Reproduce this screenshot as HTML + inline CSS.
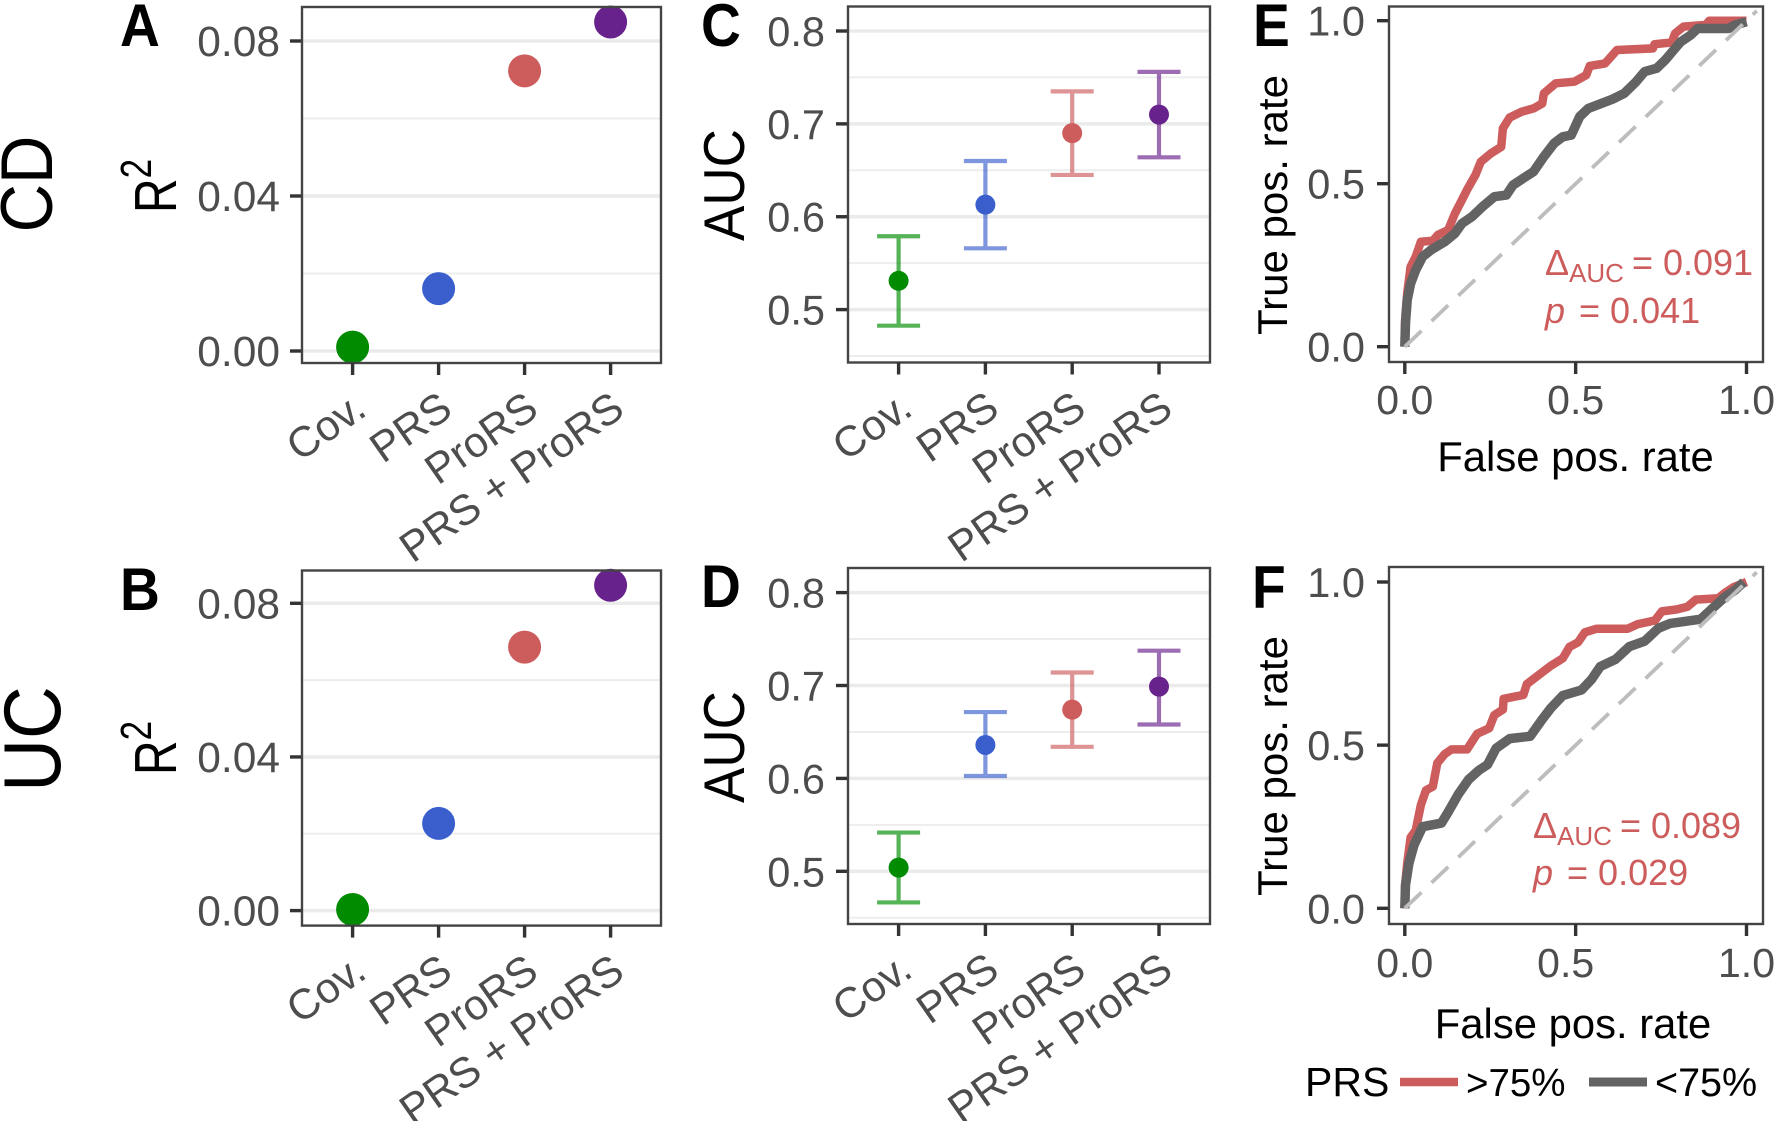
<!DOCTYPE html>
<html lang="en">
<head>
<meta charset="utf-8">
<title>Risk score performance for CD and UC</title>
<style>
html,body{margin:0;padding:0;background:#fff;}
svg{display:block;font-family:"Liberation Sans",Arial,sans-serif;}
</style>
</head>
<body>
<svg id="figure" width="1775" height="1121" viewBox="0 0 1775 1121" xmlns="http://www.w3.org/2000/svg"></svg>
<script>
var categories = ['Cov.', 'PRS', 'ProRS', 'PRS + ProRS'];
var categoryColors = ['#008B00', '#3A5FCD', '#CD5C5C', '#68228B'];

var r2TickLabels = ['0.00', '0.04', '0.08'];
var r2Ticks = [0, 0.04, 0.08];
var r2MinorTicks = [0.02, 0.06];
var aucTickLabels = ['0.5', '0.6', '0.7', '0.8'];
var aucTicks = [0.5, 0.6, 0.7, 0.8];
var aucMinorTicks = [0.45, 0.55, 0.65, 0.75];
var rocTickLabels = ['0.0', '0.5', '1.0'];
var rocTicks = [0, 0.5, 1];

var r2Cd = [0.001, 0.0161, 0.0723, 0.0849];
var r2Uc = [0.0003, 0.0227, 0.0686, 0.0847];

var aucCdMean = [0.531, 0.613, 0.690, 0.710];
var aucCdLower = [0.4827, 0.566, 0.645, 0.664];
var aucCdUpper = [0.579, 0.660, 0.735, 0.756];
var aucUcMean = [0.504, 0.636, 0.674, 0.6988];
var aucUcLower = [0.4665, 0.6026, 0.634, 0.658];
var aucUcUpper = [0.5417, 0.6714, 0.714, 0.7375];

var rocCdHighFpr = [0,.001,.007,.017,.032,.047,.082,.097,.127,.147,.167,.182,.207,.222,.252,.282,.287,.307,.342,.377,.402,.407,.442,.496,.531,.541,.586,.621,.726,.731,.781,.791,.816,.881,.891,1];
var rocCdHighTpr = [0,.082,.164,.245,.276,.322,.325,.343,.358,.409,.45,.481,.527,.567,.593,.613,.67,.703,.721,.731,.746,.777,.808,.813,.833,.861,.869,.91,.915,.928,.933,.961,.982,.987,1,1];
var rocCdLowFpr = [0,.002,.007,.017,.032,.052,.077,.117,.147,.167,.197,.227,.262,.297,.317,.347,.377,.407,.437,.462,.487,.512,.537,.577,.607,.642,.677,.702,.737,.762,.787,.807,.837,.857,.947,.967,1];
var rocCdLowTpr = [0,.072,.143,.194,.235,.276,.297,.322,.348,.378,.399,.429,.46,.465,.496,.517,.537,.583,.624,.644,.649,.706,.731,.747,.759,.777,.813,.844,.854,.879,.91,.935,.956,.976,.976,.987,.997];
var rocUcHighFpr = [0,.001,.007,.017,.032,.047,.062,.082,.095,.117,.137,.182,.212,.247,.262,.287,.289,.347,.357,.392,.427,.462,.482,.507,.527,.562,.652,.682,.732,.752,.797,.827,.852,.917,.937,.962,1];
var rocUcHighTpr = [0,.071,.138,.217,.239,.317,.362,.373,.445,.473,.487,.487,.535,.552,.592,.609,.642,.654,.687,.715,.743,.766,.801,.815,.846,.857,.857,.871,.882,.91,.916,.924,.946,.95,.967,.984,1];
var rocUcLowFpr = [0,.002,.012,.027,.052,.107,.127,.157,.187,.217,.242,.267,.307,.367,.402,.427,.462,.517,.547,.572,.617,.657,.702,.742,.777,.866,.901,.936,.966,.992];
var rocUcLowTpr = [0,.071,.138,.194,.25,.261,.295,.35,.395,.423,.44,.49,.52,.527,.579,.613,.652,.669,.702,.741,.763,.802,.819,.858,.873,.886,.92,.953,.975,1];

var SVG_NS = 'http://www.w3.org/2000/svg';
var root = document.getElementById('figure');

function add(parent, tag, attrs, text) {
  var node = document.createElementNS(SVG_NS, tag);
  for (var key in attrs) { node.setAttribute(key, attrs[key]); }
  if (text !== undefined) { node.textContent = text; }
  parent.appendChild(node);
  return node;
}

function linear(d0, d1, r0, r1) {
  return function (v) { return r0 + (v - d0) / (d1 - d0) * (r1 - r0); };
}

function slug(s) {
  return s.toLowerCase().replace(/[^a-z0-9]+/g, '-').replace(/^-|-$/g, '');
}

function panelBase(id, box, yScale, majors, minors, yLabels, labelRight, labelSize) {
  var g = add(root, 'g', {});
  
  
  minors.forEach(function (v) {
    var el = add(g, 'line', {x1: box.l, x2: box.r, y1: yScale(v), y2: yScale(v), stroke: '#ededed', 'stroke-width': 2});
    
    
  });
  majors.forEach(function (v, i) {
    var y = yScale(v);
    var el;
    if (box.grid !== false) {
      el = add(g, 'line', {x1: box.l, x2: box.r, y1: y, y2: y, stroke: '#ebebeb', 'stroke-width': 3.5});
      
      
    }
    el = add(g, 'line', {x1: box.l - 12, x2: box.l, y1: y, y2: y, stroke: '#333', 'stroke-width': 3.4});
    
    
    el = add(g, 'text', {x: labelRight, y: y + 15, 'text-anchor': 'end', 'font-size': labelSize, fill: '#4d4d4d'}, yLabels[i]);
    
    
  });
  return g;
}

function frame(g, box) {
  var el = add(g, 'rect', {x: box.l, y: box.t, width: box.r - box.l, height: box.b - box.t, fill: 'none', stroke: '#444', 'stroke-width': 2.4});
  
  
}

function categoryAxis(g, box, xPos) {
  categories.forEach(function (c, i) {
    var x = xPos(i);
    var el = add(g, 'line', {x1: x, x2: x, y1: box.b, y2: box.b + 12, stroke: '#333', 'stroke-width': 3.4});
    
    
    var ax = x + 16, ay = box.b + 51;
    el = add(g, 'text', {x: ax, y: ay, 'text-anchor': 'end', 'font-size': 42.5, fill: '#4d4d4d', transform: 'rotate(-35 ' + ax + ' ' + ay + ')'}, c);
    
    
  });
}

function r2Panel(id, box, y0px, y08px, values) {
  var y = linear(0, 0.08, y0px, y08px);
  var g = panelBase(id, box, y, r2Ticks, r2MinorTicks, r2TickLabels, 280, 42.5);
  var xPos = linear(0, 3, 352.6, 610.6);
  values.forEach(function (v, i) {
    var el = add(g, 'circle', {cx: xPos(i), cy: y(v), r: 16.5, fill: categoryColors[i]});
    
    
  });
  frame(g, box);
  categoryAxis(g, box, xPos);
}

function aucPanel(id, box, y5px, y8px, mean, lower, upper) {
  var y = linear(0.5, 0.8, y5px, y8px);
  var g = panelBase(id, box, y, aucTicks, aucMinorTicks, aucTickLabels, 825, 41.5);
  var xPos = linear(0, 3, 898.6, 1159);
  mean.forEach(function (v, i) {
    var x = xPos(i);
    var el = add(g, 'path', {d: 'M' + (x - 21.5) + ' ' + y(upper[i]) + 'H' + (x + 21.5) + 'M' + x + ' ' + y(upper[i]) + 'V' + y(lower[i]) + 'M' + (x - 21.5) + ' ' + y(lower[i]) + 'H' + (x + 21.5), fill: 'none', stroke: categoryColors[i], 'stroke-width': 4.2, 'stroke-opacity': 0.66});
    
    
    el = add(g, 'circle', {cx: x, cy: y(v), r: 10, fill: categoryColors[i]});
    
    
  });
  frame(g, box);
  categoryAxis(g, box, xPos);
}

function rocPath(xs, ys, xScale, yScale) {
  return xs.map(function (v, i) {
    return (i ? 'L' : 'M') + xScale(v).toFixed(1) + ' ' + yScale(ys[i]).toFixed(1);
  }).join('');
}

function rocPanel(id, box, y0px, y1px, highX, highY, lowX, lowY, labelBase, labelShift) {
  var y = linear(0, 1, y0px, y1px);
  var x = linear(0, 1, 1404.8, 1746.5);
  var g = panelBase(id, Object.assign({grid: false}, box), y, rocTicks, [], rocTickLabels, 1365, 41.5);
  var el = add(g, 'path', {d: rocPath(highX, highY, x, y), fill: 'none', stroke: '#CD5C5C', 'stroke-width': 8.5, 'stroke-linejoin': 'round'});
  
  
  el = add(g, 'path', {d: rocPath(lowX, lowY, x, y), fill: 'none', stroke: '#636363', 'stroke-width': 9.5, 'stroke-linejoin': 'round'});
  
  
  el = add(g, 'line', {x1: x(0), y1: y(0), x2: x(1.03), y2: y(1.03), stroke: '#bdbdbd', 'stroke-width': 3.8, 'stroke-dasharray': '23 14'});
  
  
  frame(g, box);
  rocTicks.forEach(function (v, i) {
    var px = x(v);
    var t = add(g, 'line', {x1: px, x2: px, y1: box.b, y2: box.b + 12, stroke: '#333', 'stroke-width': 3.4});
    
    
    t = add(g, 'text', {x: px + labelShift[i], y: labelBase, 'text-anchor': 'middle', 'font-size': 41, fill: '#4d4d4d'}, rocTickLabels[i]);
    
    
  });
}

function plainText(str, attrs) {
  var base = {fill: '#000'};
  for (var k in attrs) { base[k] = attrs[k]; }
  return add(root, 'text', base, str);
}

function annotate(x, y1, y2, delta, pval, id) {
  var t = add(root, 'text', {x: x, y: y1, 'font-size': 36, fill: '#CD5C5C'});
  
  
  add(t, 'tspan', {}, '\u0394');
  add(t, 'tspan', {'font-size': 26, dy: 7}, 'AUC');
  add(t, 'tspan', {dy: -7, dx: 8}, '= ' + delta);
  var p = add(root, 'text', {x: x, y: y2, 'font-size': 36, fill: '#CD5C5C'});
  
  
  add(p, 'tspan', {'font-style': 'italic'}, 'p');
  add(p, 'tspan', {dx: 14}, '= ' + pval);
}

r2Panel('a', {l: 302, r: 661, t: 7, b: 363}, 351, 41, r2Cd);
r2Panel('b', {l: 302, r: 661, t: 570.5, b: 925.6}, 910.6, 603.3, r2Uc);
aucPanel('c', {l: 848, r: 1210, t: 6.5, b: 362.5}, 309.6, 31, aucCdMean, aucCdLower, aucCdUpper);
aucPanel('d', {l: 848, r: 1210, t: 568, b: 924}, 871.3, 592.6, aucUcMean, aucUcLower, aucUcUpper);
rocPanel('e', {l: 1389, r: 1763, t: 6.5, b: 362}, 346.7, 20.7, rocCdHighFpr, rocCdHighTpr, rocCdLowFpr, rocCdLowTpr, 414, [0, 0, 0]);
rocPanel('f', {l: 1389, r: 1763, t: 567, b: 924}, 908.3, 582, rocUcHighFpr, rocUcHighTpr, rocUcLowFpr, rocUcLowTpr, 977, [0, -10, 0]);

annotate(1545, 275, 323, '0.091', '0.041', 'cd');
annotate(1533, 838, 885, '0.089', '0.029', 'uc');

var el;
el = plainText('A', {'font-size': 60, 'font-weight': 'bold', transform: 'translate(120 46) scale(.92 1)'});


el = plainText('B', {'font-size': 60, 'font-weight': 'bold', transform: 'translate(120 610) scale(.92 1)'});


el = plainText('C', {'font-size': 60, 'font-weight': 'bold', transform: 'translate(701 46) scale(.92 1)'});


el = plainText('D', {'font-size': 60, 'font-weight': 'bold', transform: 'translate(701 607) scale(.92 1)'});


el = plainText('E', {'font-size': 60, 'font-weight': 'bold', transform: 'translate(1253 46) scale(.92 1)'});


el = plainText('F', {'font-size': 60, 'font-weight': 'bold', transform: 'translate(1252 608) scale(.92 1)'});



el = plainText('CD', {'font-size': 67, 'text-anchor': 'middle', transform: 'translate(52 184) rotate(-90) scale(1 1.1)'});


el = plainText('UC', {'font-size': 73, 'text-anchor': 'middle', transform: 'translate(60 739) rotate(-90) scale(1 1.1)'});



function r2Title(baseY, id) {
  var t = add(root, 'text', {'font-size': 48, fill: '#000', transform: 'translate(176 ' + baseY + ') rotate(-90) scale(1 1.24)'});
  
  
  add(t, 'tspan', {}, 'R');
  add(t, 'tspan', {'font-size': 35, dy: -20}, '2');
}
r2Title(213, 'cd');
r2Title(775, 'uc');

el = plainText('AUC', {'font-size': 53, 'text-anchor': 'middle', transform: 'translate(744 185) rotate(-90) scale(1 1.08)'});


el = plainText('AUC', {'font-size': 53, 'text-anchor': 'middle', transform: 'translate(744 747) rotate(-90) scale(1 1.08)'});



el = plainText('True pos. rate', {'font-size': 42, 'text-anchor': 'middle', transform: 'translate(1287 205) rotate(-90)'});


el = plainText('True pos. rate', {'font-size': 42, 'text-anchor': 'middle', transform: 'translate(1287 766) rotate(-90)'});


el = plainText('False pos. rate', {'font-size': 41.8, 'text-anchor': 'middle', x: 1575.5, y: 471});


el = plainText('False pos. rate', {'font-size': 41.8, 'text-anchor': 'middle', x: 1573, y: 1038});



el = plainText('PRS', {'font-size': 41, x: 1305, y: 1096});


el = add(root, 'line', {x1: 1400, x2: 1458, y1: 1082, y2: 1082, stroke: '#CD5C5C', 'stroke-width': 8.5});


el = plainText('>75%', {'font-size': 38.5, x: 1466, y: 1096});


el = add(root, 'line', {x1: 1589, x2: 1647, y1: 1082, y2: 1082, stroke: '#636363', 'stroke-width': 9});


el = plainText('<75%', {'font-size': 39.5, x: 1655, y: 1096});


</script>
</body>
</html>
